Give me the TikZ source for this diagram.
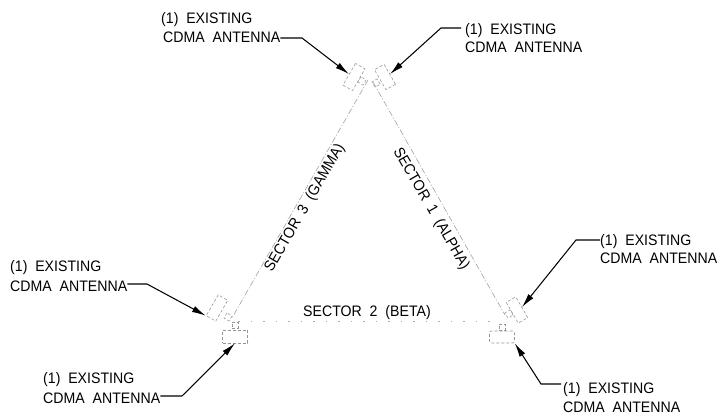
\documentclass[tikz,border=0pt]{standalone}
\usepackage{fontspec}
\setmainfont[FakeStretch=0.93,WordSpace=2]{Liberation Sans}
\usetikzlibrary{arrows.meta}
\tikzset{
 lab/.style={font=\fontsize{15.2}{18}\selectfont,inner sep=0pt,anchor=base west,text=black},
 ant/.style={draw=black!42,densely dashed,line width=.55pt,inner sep=0pt,minimum width=#1,minimum height=11pt},
 ant/.default=24pt,
 hub/.style={draw=black!42,densely dashed,line width=.5pt,inner sep=0pt,minimum size=6pt},
 leader/.style={draw=black,line width=1.05pt,-{Latex[length=14pt,width=6.5pt]}},
 sect/.style={draw=black!42,line width=.5pt,dash pattern=on 6pt off 2pt on 1pt off 2pt},
 sectb/.style={draw=black!32,line width=.6pt,dash pattern=on 1.5pt off 11pt},
 seclab/.style={font=\fontsize{15.2}{18}\selectfont,inner sep=0pt,text=black}
}
\begin{document}
\begin{tikzpicture}[x=1pt,y=-1pt]
\useasboundingbox (0,0) rectangle (721,417);
\fill[white] (0,0) rectangle (721,417);
% hubs
\node[hub,rotate=60] (apexl) at (362,81) {};
\node[hub,rotate=-60] (apexr) at (376,83) {};
\node[hub] (bl) at (235,325) {};
\node[hub,rotate=60] (bl2) at (228,317) {};
\node[hub,rotate=-60] (br2) at (509,314) {};
\node[hub] (br) at (502,327) {};
% line ends
\coordinate (pl) at (368,80);
\coordinate (pr) at (373,82);
\coordinate (ql) at (232,318);
\coordinate (qr) at (505,315);
% antennas
\node[ant=25pt,rotate=60] (a1) at (354,77) {};
\node[ant=23pt,rotate=-60] (a2) at (385,77) {};
\node[ant=24pt,rotate=60] (a3) at (217,308) {};
\node[ant=25pt,minimum height=13pt] (a4) at (235,336.5) {};
\node[ant=24pt,rotate=-60] (a5) at (517,310) {};
\node[ant=25pt,minimum height=12pt,rounded corners=2pt] (a6) at (502,337) {};
\draw[sect] (pl) -- (ql);
\draw[sect] (pr) -- (qr);
\draw[sectb] (bl.north east) -- (br.west|-bl.north east);
% labels
\node[lab] (t1) at (161,24) {(1) EXISTING};
\node[lab] (t1b) at (163,43) {CDMA ANTENNA};
\node[lab] (t2) at (465,35) {(1) EXISTING};
\node[lab] (t2b) at (465,53) {CDMA ANTENNA};
\node[lab] (t3) at (10,272) {(1) EXISTING};
\node[lab] (t3b) at (10,291) {CDMA ANTENNA};
\node[lab] (t4) at (43,383) {(1) EXISTING};
\node[lab] (t4b) at (43,403) {CDMA ANTENNA};
\node[lab] (t5) at (600,245) {(1) EXISTING};
\node[lab] (t5b) at (600,263) {CDMA ANTENNA};
\node[lab] (t6) at (563,393) {(1) EXISTING};
\node[lab] (t6b) at (563,412) {CDMA ANTENNA};
% leaders
\coordinate (k1) at (302,38);\coordinate (k2) at (441,28);\coordinate (k3) at (147,284);
\coordinate (k4) at (182,396);\coordinate (k5) at (576,240);\coordinate (k6) at (541,384);
\draw[leader] (t1b.east|-k1) -- (k1) -- (a1.north);
\draw[leader,shorten <=4pt] (t2.west|-k2) -- (k2) -- (a2.north);
\draw[leader] (t3b.east|-k3) -- (k3) -- (a3.north west);
\draw[leader] (t4b.east|-k4) -- (k4) -- (a4.south);
\draw[leader] (t5.west|-k5) -- (k5) -- (a5.north);
\draw[leader,shorten <=2pt] (t6.west|-k6) -- (k6) -- (a6.south east);
% sector labels
\node[seclab,rotate=60] (s3) at (305,208) {SECTOR 3 (GAMMA)};
\node[seclab,rotate=-60] (s1) at (431,209) {SECTOR 1 (ALPHA)};
\node[seclab] (s2) at (367,313) {SECTOR 2 (BETA)};
\end{tikzpicture}
\end{document}
